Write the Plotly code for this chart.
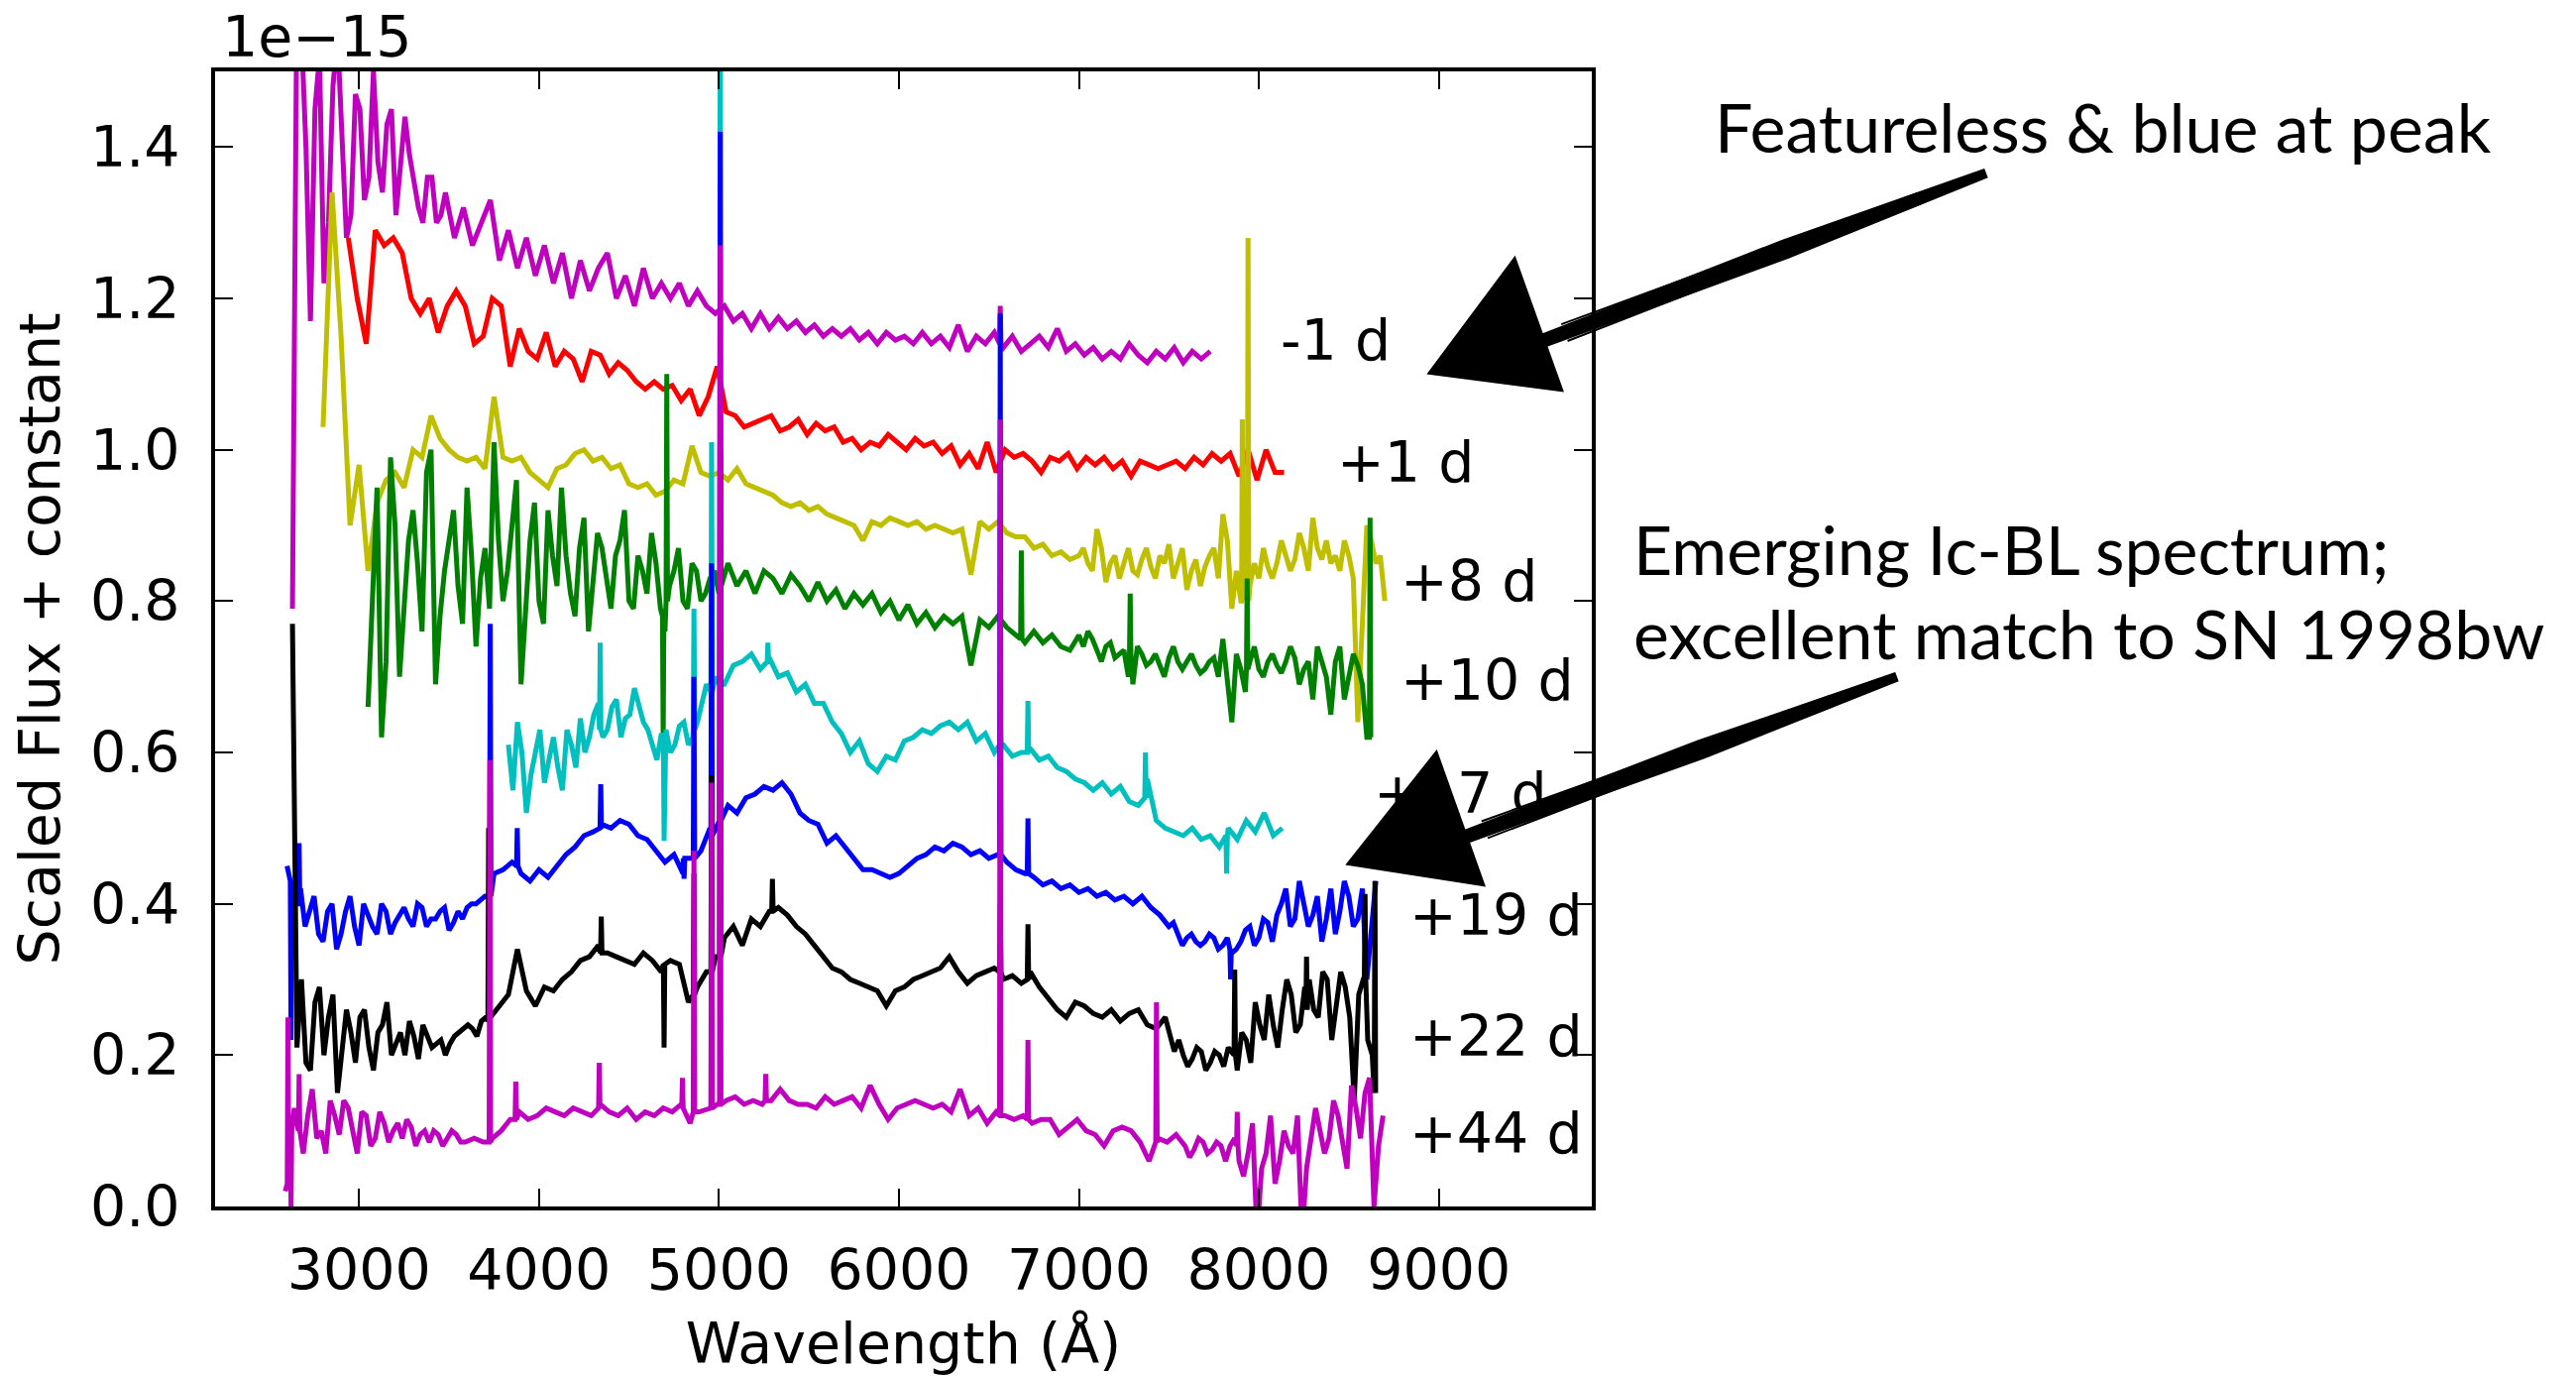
import plotly.graph_objects as go

# ---------------- data (flux in units of 1e-15, wavelength in Angstrom) ----------------
STEP = 50  # sampling of the read-off spectra (Angstrom); extra samples sit half a step later

epoch_labels = ["-1 d", "+1 d", "+8 d", "+10 d", "+17 d", "+19 d", "+22 d", "+44 d"]

# ---- -1 d ----
start_m1 = 2630
flux_m1 = [
    0.79, 1.55, 1.17, 1.52, 1.30, 1.55, 1.28, 1.47, 1.33, 1.50,
    1.34, 1.45, 1.38, 1.39, 1.32, 1.36, 1.30, 1.34, 1.28, 1.32,
    1.27, 1.30, 1.33, 1.25, 1.29, 1.24, 1.28, 1.23, 1.27, 1.22,
    1.26, 1.20, 1.25, 1.21, 1.24, 1.26, 1.20, 1.23, 1.19, 1.24,
    1.20, 1.22, 1.20, 1.22, 1.19, 1.21, 1.19, 1.18, 1.19, 1.17,
    1.18, 1.16, 1.18, 1.16, 1.175, 1.16, 1.17, 1.155, 1.165, 1.15,
    1.16, 1.15, 1.16, 1.145, 1.155, 1.14, 1.155, 1.145, 1.15, 1.14,
    1.155, 1.14, 1.15, 1.135, 1.165, 1.13, 1.15, 1.14, 1.155, 1.135,
    1.15, 1.13, 1.14, 1.15, 1.135, 1.16, 1.13, 1.14, 1.125, 1.135,
    1.12, 1.13, 1.12, 1.14, 1.125, 1.115, 1.13, 1.12, 1.135, 1.115,
    1.13, 1.12, 1.13,
]
extra_m1 = [(2655, [1.62, 1.40, 1.45, 1.22, 1.48, 1.42, 1.31, 1.45, 1.36, 1.38,
                    1.43, 1.31, 1.44, 1.35, 1.30, 1.36, 1.31])]
spikes_m1 = [(6563, 1.19, 1.14)]

# ---- +1 d ----
start_p1 = 2940
flux_p1 = [
    1.28, 1.20, 1.14, 1.29, 1.27, 1.28, 1.26, 1.20, 1.18, 1.20,
    1.155, 1.19, 1.21, 1.19, 1.14, 1.15, 1.20, 1.19, 1.11, 1.16,
    1.13, 1.12, 1.155, 1.11, 1.13, 1.12, 1.09, 1.13, 1.125, 1.10,
    1.115, 1.105, 1.09, 1.08, 1.09, 1.08, 1.085, 1.065, 1.08, 1.045,
    1.07, 1.11, 1.05, 1.045, 1.03, 1.035, 1.04, 1.045, 1.025, 1.03,
    1.04, 1.02, 1.035, 1.025, 1.03, 1.01, 1.015, 1.00, 1.01, 1.005,
    1.02, 1.01, 1.00, 1.015, 1.005, 1.01, 0.995, 1.005, 0.98, 0.995,
    0.975, 1.01, 0.97, 1.00, 0.99, 0.995, 0.985, 0.97, 0.99, 0.985,
    0.995, 0.975, 0.99, 0.98, 0.99, 0.975, 0.985, 0.965, 0.985, 0.98,
    0.975, 0.98, 0.985, 0.975, 0.99, 0.98, 0.995, 0.985, 0.995, 0.965,
    1.00, 0.96, 1.00, 0.97, 0.97,
]
extra_p1 = []
spikes_p1 = []

# ---- +8 d ----
start_p8 = 2800
flux_p8 = [
    1.03, 1.34, 1.15, 0.90, 0.98, 0.84, 0.93, 0.96, 0.97, 0.95,
    1.00, 0.99, 1.045, 1.015, 1.00, 0.99, 0.985, 0.99, 0.975, 1.07,
    0.99, 0.985, 0.99, 0.97, 0.96, 0.95, 0.975, 0.98, 0.995, 1.00,
    0.985, 0.99, 0.975, 0.98, 0.955, 0.95, 0.955, 0.94, 0.945, 0.96,
    0.955, 1.005, 0.97, 0.965, 0.97, 0.96, 0.975, 0.955, 0.95, 0.945,
    0.94, 0.93, 0.925, 0.93, 0.92, 0.925, 0.915, 0.91, 0.905, 0.90,
    0.88, 0.905, 0.90, 0.91, 0.905, 0.90, 0.905, 0.895, 0.90, 0.895,
    0.89, 0.895, 0.835, 0.905, 0.895, 0.905, 0.89, 0.885, 0.885, 0.87,
    0.875, 0.86, 0.865, 0.855, 0.86, 0.85, 0.895, 0.825, 0.86, 0.85,
    0.84, 0.855, 0.845, 0.86, 0.875, 0.85, 0.815, 0.855, 0.845, 0.87,
    0.915, 0.79, 0.80, 0.82, 0.83, 0.845, 0.85, 0.86, 0.855, 0.87,
    0.91, 0.855, 0.85, 0.84, 0.86, 0.64, 0.90, 0.85, 0.80,
]
extra_p8 = [(7025, [0.87, 0.84, 0.87, 0.85, 0.83, 0.87, 0.835, 0.87, 0.83, 0.85,
                    0.83, 0.87, 0.84, 0.82, 0.86, 0.83, 0.88, 0.84, 0.83, 0.85,
                    0.87, 0.83, 0.88, 0.84, 0.89, 0.84, 0.87, 0.88, 0.86, 0.88,
                    0.83, 0.78, 0.88, 0.86])]
spikes_p8 = [(7908, 1.04, 0.80), (7940, 1.28, 0.80)]

# ---- +10 d ----
start_p10 = 3050
flux_p10 = [
    0.66, 0.95, 0.72, 0.90, 0.80, 0.92, 0.76, 1.00, 0.78, 0.88,
    0.82, 0.95, 0.74, 0.87, 1.01, 0.80, 0.90, 0.69, 0.88, 0.80,
    0.92, 0.82, 0.86, 0.78, 0.91, 0.82, 0.87, 0.79, 0.88, 0.80,
    0.86, 0.81, 0.85, 0.76, 0.84, 0.80, 0.85, 0.80, 0.83, 0.81,
    0.85, 0.82, 0.84, 0.81, 0.84, 0.83, 0.81, 0.835, 0.82, 0.80,
    0.825, 0.80, 0.815, 0.79, 0.81, 0.795, 0.81, 0.785, 0.80, 0.775,
    0.795, 0.77, 0.785, 0.765, 0.78, 0.77, 0.78, 0.715, 0.775, 0.765,
    0.78, 0.765, 0.755, 0.745, 0.76, 0.745, 0.755, 0.74, 0.735, 0.755,
    0.76, 0.735, 0.74, 0.725, 0.735, 0.69, 0.73, 0.72, 0.715, 0.725,
    0.72, 0.72, 0.715, 0.71, 0.725, 0.75, 0.64, 0.71, 0.72, 0.71,
    0.72, 0.715, 0.72, 0.725, 0.71, 0.67, 0.72, 0.65, 0.74, 0.70,
    0.715, 0.62,
]
extra_p10 = [
    (3075, [0.80, 0.62, 0.99, 0.70, 0.88, 0.85, 0.97, 0.69, 0.84, 0.92,
            0.77, 0.86, 0.83, 0.79, 0.88, 0.84, 0.96, 0.80, 0.93, 0.77,
            0.86, 0.95, 0.81, 0.87, 0.76, 0.89, 0.83, 0.86, 0.92, 0.79,
            0.84, 0.89, 0.79, 0.82, 0.87, 0.79, 0.84, 0.81, 0.84]),
    (7025, [0.74, 0.75, 0.72, 0.745, 0.73, 0.70, 0.74, 0.715, 0.73, 0.70,
            0.74, 0.71, 0.73, 0.705, 0.72, 0.70, 0.69, 0.73, 0.68, 0.74,
            0.70, 0.73, 0.705, 0.74, 0.69, 0.72, 0.74, 0.70, 0.72, 0.67,
            0.73, 0.69]),
]
spikes_p10 = [(4690, 0.62, 0.78), (4710, 1.10, 0.80), (6680, 0.867, 0.75),
              (7285, 0.81, 0.73), (7935, 0.83, 0.71), (8618, 0.91, 0.62)]

# ---- +17 d ----
start_p17 = 3830
flux_p17 = [
    0.61, 0.64, 0.52, 0.60, 0.56, 0.62, 0.55, 0.61, 0.645, 0.62,
    0.665, 0.63, 0.67, 0.645, 0.685, 0.64, 0.61, 0.625, 0.60, 0.635,
    0.61, 0.64, 0.69, 0.70, 0.69, 0.715, 0.72, 0.73, 0.71, 0.725,
    0.70, 0.705, 0.68, 0.69, 0.665, 0.665, 0.64, 0.625, 0.60, 0.615,
    0.585, 0.575, 0.595, 0.59, 0.615, 0.62, 0.63, 0.625, 0.635, 0.64,
    0.63, 0.64, 0.615, 0.625, 0.60, 0.61, 0.595, 0.60, 0.605, 0.59,
    0.595, 0.58, 0.575, 0.565, 0.56, 0.55, 0.56, 0.545, 0.555, 0.535,
    0.53, 0.565, 0.51, 0.50, 0.495, 0.49, 0.50, 0.485, 0.49, 0.475,
    0.50, 0.485, 0.51, 0.495, 0.52, 0.49, 0.50,
]
extra_p17 = [(3855, [0.55, 0.60, 0.57, 0.63, 0.59, 0.58, 0.63, 0.58, 0.60, 0.65,
                     0.62, 0.66, 0.62, 0.65, 0.66, 0.63, 0.59, 0.63, 0.61, 0.64,
                     0.62])]
spikes_p17 = [(4340, 0.745, 0.63), (4695, 0.483, 0.62), (4861, 0.79, 0.63),
              (4959, 1.01, 0.68), (5007, 1.60, 0.69), (5272, 0.745, 0.72),
              (6563, 0.65, 0.61), (6717, 0.668, 0.60), (7370, 0.60, 0.54),
              (7821, 0.44, 0.49)]

# ---- +19 d ----
start_p19 = 2600
flux_p19 = [
    0.45, 0.40, 0.37, 0.41, 0.35, 0.40, 0.36, 0.41, 0.345, 0.385,
    0.36, 0.39, 0.375, 0.395, 0.37, 0.395, 0.38, 0.39, 0.365, 0.39,
    0.395, 0.40, 0.41, 0.44, 0.445, 0.455, 0.44, 0.43, 0.445, 0.435,
    0.45, 0.465, 0.475, 0.49, 0.495, 0.505, 0.50, 0.51, 0.505, 0.49,
    0.485, 0.47, 0.455, 0.465, 0.44, 0.46, 0.47, 0.50, 0.51, 0.53,
    0.52, 0.54, 0.545, 0.555, 0.55, 0.56, 0.545, 0.52, 0.51, 0.505,
    0.48, 0.49, 0.475, 0.46, 0.445, 0.445, 0.44, 0.435, 0.44, 0.45,
    0.46, 0.465, 0.475, 0.47, 0.48, 0.475, 0.465, 0.47, 0.46, 0.465,
    0.455, 0.445, 0.44, 0.435, 0.425, 0.43, 0.42, 0.425, 0.415, 0.42,
    0.41, 0.415, 0.405, 0.41, 0.40, 0.41, 0.395, 0.385, 0.37, 0.36,
    0.355, 0.35, 0.35, 0.355, 0.345, 0.335, 0.35, 0.37, 0.355, 0.375,
    0.385, 0.42, 0.38, 0.40, 0.385, 0.35, 0.42, 0.39, 0.41, 0.38,
    0.30, 0.43,
]
extra_p19 = [
    (2675, [0.42, 0.39, 0.36, 0.39, 0.34, 0.39, 0.37, 0.40, 0.37, 0.40,
            0.36, 0.385, 0.38, 0.40, 0.37, 0.38, 0.395, 0.375, 0.38, 0.40,
            0.405]),
    (7525, [0.375, 0.345, 0.36, 0.345, 0.36, 0.34, 0.355, 0.34, 0.365, 0.345,
            0.38, 0.35, 0.40, 0.37, 0.43, 0.37, 0.41, 0.38, 0.36, 0.43,
            0.37, 0.42, 0.36]),
]
spikes_p19 = [(2622, 0.22, 0.43), (2667, 0.48, 0.40), (3729, 0.77, 0.41),
              (3879, 0.50, 0.45), (4343, 0.558, 0.50), (4806, 0.433, 0.46),
              (4861, 0.70, 0.46), (4959, 0.85, 0.49), (5007, 1.42, 0.51),
              (6563, 1.18, 0.465), (6717, 0.513, 0.44), (7843, 0.30, 0.34)]

# ---- +22 d ----
start_p22 = 2630
flux_p22 = [
    0.77, 0.30, 0.18, 0.29, 0.25, 0.15, 0.26, 0.19, 0.26, 0.18,
    0.24, 0.20, 0.23, 0.245, 0.195, 0.225, 0.215, 0.20, 0.225, 0.235,
    0.235, 0.245, 0.25, 0.265, 0.28, 0.34, 0.285, 0.265, 0.29, 0.285,
    0.30, 0.31, 0.325, 0.33, 0.345, 0.335, 0.33, 0.325, 0.32, 0.335,
    0.325, 0.31, 0.325, 0.32, 0.27, 0.29, 0.31, 0.33, 0.355, 0.37,
    0.345, 0.38, 0.37, 0.39, 0.395, 0.385, 0.37, 0.36, 0.345, 0.33,
    0.315, 0.31, 0.30, 0.295, 0.29, 0.285, 0.265, 0.285, 0.29, 0.30,
    0.305, 0.31, 0.315, 0.33, 0.31, 0.295, 0.305, 0.31, 0.315, 0.30,
    0.305, 0.295, 0.31, 0.29, 0.275, 0.26, 0.25, 0.27, 0.265, 0.255,
    0.25, 0.26, 0.245, 0.255, 0.26, 0.24, 0.235, 0.25, 0.205, 0.20,
    0.195, 0.205, 0.19, 0.20, 0.21, 0.18, 0.22, 0.27, 0.22, 0.24,
    0.26, 0.28, 0.24, 0.30, 0.25, 0.30, 0.26, 0.29, 0.14, 0.30,
    0.20,
]
extra_p22 = [
    (2655, [0.21, 0.19, 0.27, 0.20, 0.28, 0.21, 0.23, 0.25, 0.21, 0.23,
            0.27, 0.215, 0.20, 0.225, 0.24, 0.21, 0.22, 0.215, 0.23, 0.24,
            0.225, 0.25]),
    (7555, [0.22, 0.185, 0.21, 0.18, 0.205, 0.185, 0.20, 0.23, 0.19, 0.24,
            0.28, 0.21, 0.30, 0.23, 0.29, 0.26, 0.31, 0.22, 0.31, 0.25,
            0.28, 0.22]),
]
spikes_p22 = [(3720, 0.50, 0.245), (4346, 0.383, 0.335), (4695, 0.21, 0.32),
              (4861, 0.44, 0.28), (4959, 0.57, 0.31), (5007, 1.00, 0.33),
              (5297, 0.433, 0.39), (6563, 0.40, 0.31), (6717, 0.373, 0.30),
              (7866, 0.313, 0.20), (8265, 0.33, 0.26), (8590, 0.413, 0.30),
              (8645, 0.43, 0.15)]

# ---- +44 d ----
start_p44 = 2590
flux_p44 = [
    0.02, 0.13, 0.07, 0.155, 0.10, 0.14, 0.095, 0.13, 0.07, 0.12,
    0.09, 0.11, 0.10, 0.09, 0.105, 0.095, 0.085, 0.095, 0.09, 0.095,
    0.085, 0.09, 0.085, 0.09, 0.10, 0.115, 0.125, 0.115, 0.12, 0.13,
    0.125, 0.12, 0.13, 0.125, 0.12, 0.135, 0.125, 0.12, 0.13, 0.115,
    0.125, 0.12, 0.13, 0.125, 0.135, 0.11, 0.125, 0.13, 0.135, 0.14,
    0.145, 0.135, 0.14, 0.135, 0.14, 0.155, 0.14, 0.135, 0.135, 0.13,
    0.145, 0.135, 0.14, 0.145, 0.13, 0.16, 0.135, 0.115, 0.13, 0.135,
    0.14, 0.135, 0.13, 0.135, 0.125, 0.155, 0.12, 0.13, 0.11, 0.125,
    0.12, 0.115, 0.12, 0.11, 0.115, 0.115, 0.095, 0.105, 0.115, 0.10,
    0.095, 0.08, 0.10, 0.105, 0.10, 0.085, 0.06, 0.09, 0.085, 0.095,
    0.08, 0.075, 0.085, 0.075, 0.08, 0.08, 0.06, 0.07, -0.04, 0.07,
    0.03, 0.10, 0.07, -0.04, 0.09, 0.10, 0.09, 0.12, 0.05, 0.13,
    0.15, 0.00, 0.12,
]
extra_p44 = [
    (2715, [0.12, 0.09, 0.07, 0.12, 0.14, 0.10, 0.125, 0.08, 0.125, 0.085,
            0.11, 0.115, 0.08, 0.10, 0.10, 0.08, 0.10, 0.085]),
    (7615, [0.065, 0.09, 0.07, 0.085, 0.06, 0.09, 0.04, 0.11, 0.05, 0.12,
            0.06, 0.08, 0.12, 0.05, 0.13, 0.07, 0.14, 0.08, 0.16, 0.09,
            0.17, 0.08]),
]
spikes_p44 = [(2605, 0.25, 0.03), (2622, 0.00, 0.10), (2667, 0.175, 0.10),
              (3727, 0.59, 0.085), (3871, 0.165, 0.115), (4335, 0.19, 0.13),
              (4797, 0.17, 0.13), (4861, 0.47, 0.125), (4959, 0.56, 0.13),
              (5007, 1.27, 0.135), (5260, 0.175, 0.14), (6563, 1.04, 0.12),
              (6717, 0.22, 0.115), (7431, 0.27, 0.085), (7880, 0.125, 0.08)]

spectra = [
    (start_m1, flux_m1, extra_m1, spikes_m1),
    (start_p1, flux_p1, extra_p1, spikes_p1),
    (start_p8, flux_p8, extra_p8, spikes_p8),
    (start_p10, flux_p10, extra_p10, spikes_p10),
    (start_p17, flux_p17, extra_p17, spikes_p17),
    (start_p19, flux_p19, extra_p19, spikes_p19),
    (start_p22, flux_p22, extra_p22, spikes_p22),
    (start_p44, flux_p44, extra_p44, spikes_p44),
]

x_tick_values = [3000, 4000, 5000, 6000, 7000, 8000, 9000]
y_tick_values = [0.0, 0.2, 0.4, 0.6, 0.8, 1.0, 1.2, 1.4]

# ---------------- styles ----------------
line_colors = ["#bf00bf", "#ff0000", "#bfbf00", "#008000",
               "#00bfbf", "#0000ff", "#000000", "#bf00bf"]
# label anchor positions (data coords) for the epoch labels
label_pos = [(8110, 1.145), (8423, 0.984), (8776, 0.827), (8776, 0.696),
             (8627, 0.546), (8826, 0.385), (8826, 0.225), (8826, 0.097)]

FONT = "DejaVu Sans"
W, H = 2599, 1388
L, R, T, B = 217, 1606, 72, 1217  # plot area in pixels


def build(start, flux, extra, spikes):
    pts = [(start + i * STEP, f) for i, f in enumerate(flux)]
    for s0, vals in extra:
        pts += [(s0 + i * STEP, f) for i, f in enumerate(vals)]
    for lam, peak, foot in spikes:
        pts += [(lam - 4, foot), (lam, peak), (lam + 4, foot)]
    pts.sort(key=lambda p: p[0])
    return [p[0] for p in pts], [p[1] for p in pts]


fig = go.Figure()
for (start, flux, extra, spikes), name, col in zip(spectra, epoch_labels, line_colors):
    xs, ys = build(start, flux, extra, spikes)
    fig.add_trace(go.Scatter(x=xs, y=ys, mode="lines", name=name,
                             line=dict(color=col, width=5), showlegend=False))

annotations = []
for name, (lx, ly) in zip(epoch_labels, label_pos):
    annotations.append(dict(x=lx, y=ly, xref="x", yref="y", text=name,
                            showarrow=False, xanchor="left", yanchor="middle",
                            font=dict(family=FONT, size=57, color="black")))


def px(x, y):
    return (x - L) / (R - L), (B - y) / (B - T)


def pstr(x, y):
    a, b = px(x, y)
    return f"{a:.5f},{b:.5f}"


# offset text (matplotlib style)
ox, oy = px(222, 37)
annotations.append(dict(x=ox, y=oy, xref="paper", yref="paper", text="1e\u221215",
                        showarrow=False, xanchor="left", yanchor="middle",
                        font=dict(family=FONT, size=57, color="black")))

# commentary text
CFONT = "Lato"
for txt, (x0, y0) in [("Featureless &amp; blue at peak", (1728, 127)),
                      ("Emerging Ic-BL spectrum;", (1646, 553)),
                      ("excellent match to SN 1998bw", (1646, 638))]:
    ax_, ay_ = px(x0, y0)
    annotations.append(dict(x=ax_, y=ay_, xref="paper", yref="paper", text=txt,
                            showarrow=False, xanchor="left", yanchor="middle",
                            font=dict(family=CFONT, size=68, color="black")))

shapes = []


def poly(points):
    return "M " + " L ".join(pstr(*p) for p in points) + " Z"


# hand-drawn style arrows (head triangle + tapered shaft)
arrows = [
    dict(tail=(2003, 175), head=(1556, 344), tri=[(1528, 262), (1443, 376), (1575, 393)]),
    dict(tail=(1913, 683), head=(1476, 845), tri=[(1449, 760), (1361, 871), (1496, 892)]),
]
for a in arrows:
    (tx, ty), (hx, hy) = a["tail"], a["head"]
    dx, dy = hx - tx, hy - ty
    ln = (dx * dx + dy * dy) ** 0.5
    nx, ny = -dy / ln, dx / ln
    mx, my = tx + 0.45 * dx, ty + 0.45 * dy
    pts = [(tx + 4 * nx, ty + 4 * ny), (mx + 9 * nx, my + 9 * ny), (hx + 6 * nx, hy + 6 * ny),
           (hx - 6 * nx, hy - 6 * ny), (mx - 9 * nx, my - 9 * ny), (tx - 4 * nx, ty - 4 * ny)]
    shapes.append(dict(type="path", path=poly(pts), xref="paper", yref="paper",
                       fillcolor="black", line=dict(color="black", width=2), layer="above"))
    for off in (-9, 9):
        p1 = (tx + 0.15 * dx + off * nx * 0.6, ty + 0.15 * dy + off * ny * 0.6)
        p2 = (hx - 0.05 * dx + off * nx, hy - 0.05 * dy + off * ny)
        shapes.append(dict(type="path", path="M " + pstr(*p1) + " L " + pstr(*p2),
                           xref="paper", yref="paper",
                           line=dict(color="black", width=2), layer="above"))
    shapes.append(dict(type="path", path=poly(a["tri"]), xref="paper", yref="paper",
                       fillcolor="black", line=dict(color="black", width=4), layer="above"))

axis_common = dict(showline=True, linecolor="black", linewidth=4, mirror="allticks",
                   ticks="inside", ticklen=18, tickwidth=2, tickcolor="black",
                   showgrid=False, zeroline=False, automargin=False,
                   tickfont=dict(family=FONT, size=57, color="black"))

fig.update_layout(
    width=W, height=H,
    margin=dict(l=L, r=W - R, t=T, b=H - B, pad=0),
    paper_bgcolor="white", plot_bgcolor="white",
    xaxis=dict(range=[2200, 9850], tickvals=x_tick_values,
               title=dict(text="Wavelength (Å)", standoff=26,
                          font=dict(family=FONT, size=57, color="black")),
               ticklabelstandoff=12, **axis_common),
    yaxis=dict(range=[0, 1.5], tickvals=y_tick_values, tickformat=".1f",
               title=dict(text="Scaled Flux + constant", standoff=13,
                          font=dict(family=FONT, size=57, color="black")),
               ticklabelstandoff=20, **axis_common),
    annotations=annotations,
    shapes=shapes,
    showlegend=False,
)

fig.write_html("out.html")
